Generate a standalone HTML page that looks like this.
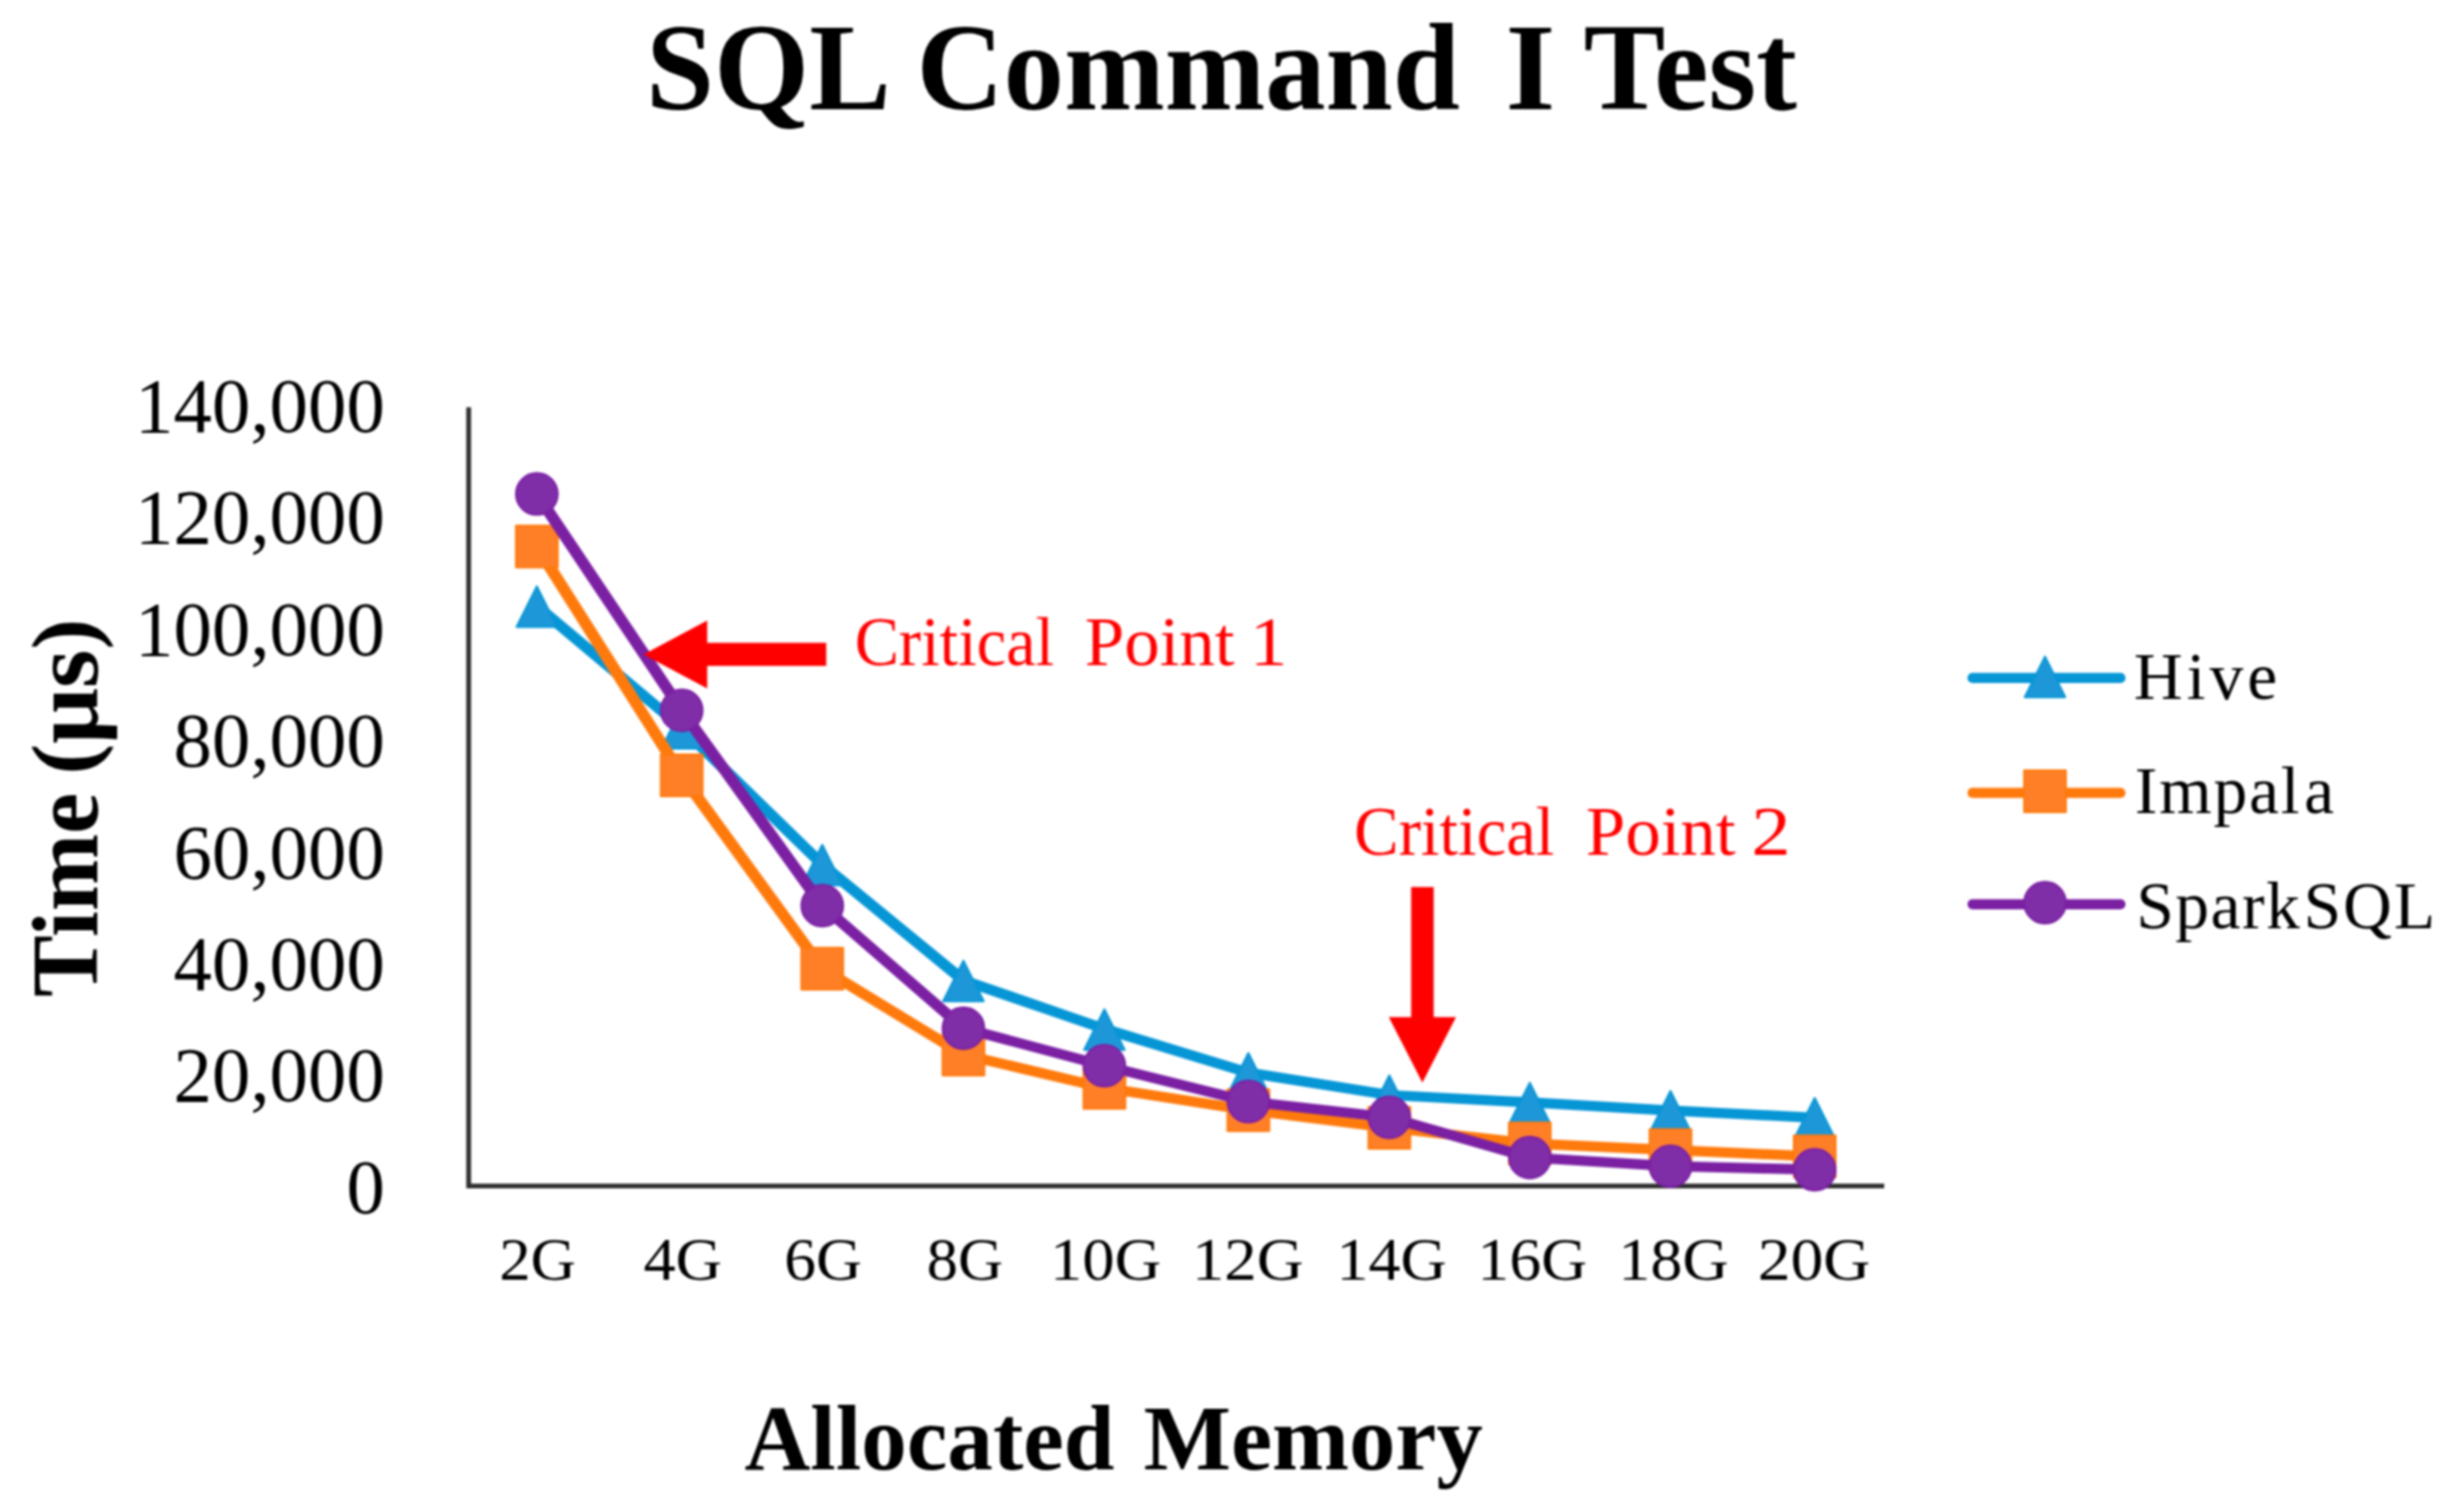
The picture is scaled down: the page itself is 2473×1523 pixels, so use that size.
<!DOCTYPE html>
<html lang="en"><head><meta charset="utf-8"><title>SQL Command I Test</title>
<style>
html,body{margin:0;padding:0;background:#fff;}
body{width:2473px;height:1523px;overflow:hidden;}
svg{display:block;filter:blur(0.9px);}
text{font-family:"Liberation Serif","Times New Roman",serif;}
.b{font-weight:bold;}
</style></head><body>
<svg width="2473" height="1523" viewBox="0 0 2473 1523">
<rect width="2473" height="1523" fill="#fff"/>
<text class="b" font-size="124" fill="#000" y="110.3"><tspan x="650.76" textLength="239.81" lengthAdjust="spacingAndGlyphs">SQL</tspan> <tspan x="923.31" textLength="547.22" lengthAdjust="spacingAndGlyphs">Command</tspan> <tspan x="1516.40" textLength="50.28" lengthAdjust="spacingAndGlyphs">I</tspan> <tspan x="1595.17" textLength="214.86" lengthAdjust="spacingAndGlyphs">Test</tspan></text>
<text font-size="62" fill="#000" y="1289.3"><tspan x="503.05" textLength="77.17" lengthAdjust="spacingAndGlyphs">2G</tspan> <tspan x="648.16" textLength="79.22" lengthAdjust="spacingAndGlyphs">4G</tspan> <tspan x="789.95" textLength="78.20" lengthAdjust="spacingAndGlyphs">6G</tspan> <tspan x="933.60" textLength="76.93" lengthAdjust="spacingAndGlyphs">8G</tspan> <tspan x="1057.80" textLength="112.04" lengthAdjust="spacingAndGlyphs">10G</tspan> <tspan x="1200.66" textLength="112.45" lengthAdjust="spacingAndGlyphs">12G</tspan> <tspan x="1346.34" textLength="111.10" lengthAdjust="spacingAndGlyphs">14G</tspan> <tspan x="1488.38" textLength="110.33" lengthAdjust="spacingAndGlyphs">16G</tspan> <tspan x="1630.35" textLength="110.93" lengthAdjust="spacingAndGlyphs">18G</tspan> <tspan x="1770.71" textLength="113.45" lengthAdjust="spacingAndGlyphs">20G</tspan></text>
<text font-size="68" fill="#000" y="703.7"><tspan x="2149.58" textLength="144.25" lengthAdjust="spacing">Hive</tspan></text>
<text font-size="70" fill="#FF0000" y="670"><tspan x="860.90" textLength="200.99" lengthAdjust="spacingAndGlyphs">Critical</tspan> <tspan x="1092.80" textLength="150.83" lengthAdjust="spacingAndGlyphs">Point</tspan> <tspan x="1259.02" textLength="37.92" lengthAdjust="spacingAndGlyphs">1</tspan></text>
<text font-size="70" fill="#FF0000" y="860.6"><tspan x="1364.11" textLength="201.70" lengthAdjust="spacingAndGlyphs">Critical</tspan> <tspan x="1597.52" textLength="150.72" lengthAdjust="spacingAndGlyphs">Point</tspan> <tspan x="1764.27" textLength="39.50" lengthAdjust="spacingAndGlyphs">2</tspan></text>
<text class="b" font-size="94" fill="#000" y="1479.6"><tspan x="749.99" textLength="372.72" lengthAdjust="spacingAndGlyphs">Allocated</tspan> <tspan x="1151.98" textLength="341.64" lengthAdjust="spacingAndGlyphs">Memory</tspan></text>
<text font-size="68" fill="#000" y="819.4"><tspan x="2150.52" textLength="165.91" lengthAdjust="spacing">Impal</tspan><tspan x="2321.06" textLength="22.22" lengthAdjust="spacing">a</tspan></text>
<text font-size="68" fill="#000" y="934.7"><tspan x="2152.03" textLength="164.62" lengthAdjust="spacing">Spark</tspan><tspan x="2320.50" textLength="132.47" lengthAdjust="spacing">SQL</tspan></text>
<g font-size="77.4" fill="#000" text-anchor="end">
<text x="387.6" y="1221.7">0</text>
<text x="387.6" y="1109.3">20,000</text>
<text x="387.6" y="996.9">40,000</text>
<text x="387.6" y="884.5">60,000</text>
<text x="387.6" y="772.1">80,000</text>
<text x="387.6" y="659.7">100,000</text>
<text x="387.6" y="547.3">120,000</text>
<text x="387.6" y="434.9">140,000</text>
</g>
<text class="b" font-size="96" fill="#000" transform="translate(97.8 1004.3) rotate(-90)" y="0"><tspan x="0" textLength="205.7" lengthAdjust="spacingAndGlyphs">Time</tspan> <tspan x="224" textLength="157" lengthAdjust="spacingAndGlyphs"><tspan font-size="90" dy="-3">(</tspan><tspan dy="3">μs</tspan><tspan font-size="90" dy="-3">)</tspan></tspan></text>
<g stroke="#2e2e2e" stroke-width="4.8" fill="none">
<polyline points="472.1,410.3 472.1,1194.6 1898,1194.6" stroke-linejoin="miter"/>
</g>
<g>
<g fill="#1E97D8" stroke="#0696D6" stroke-width="2" stroke-linejoin="round">
<polyline transform="scale(1.2 1)" points="450.67,610.4 572.25,733.0 690.25,870.8 808.75,987.5 927.08,1036.4 1047.92,1080.5 1166.25,1103.0 1284.17,1110.4 1402.25,1118.7 1523.33,1125.8" fill="none" stroke-width="10.2" stroke-linecap="round"/>
<polygon points="540.8,590.6 561.2,631.4 520.4,631.4"/>
<polygon points="686.7,713.2 707.1,754.0 666.3,754.0"/>
<polygon points="828.3,851.0 848.7,891.8 807.9,891.8"/>
<polygon points="970.5,967.7 990.9,1008.5 950.1,1008.5"/>
<polygon points="1112.5,1016.6 1132.9,1057.4 1092.1,1057.4"/>
<polygon points="1257.5,1060.7 1277.9,1101.5 1237.1,1101.5"/>
<polygon points="1399.5,1083.2 1419.9,1124.0 1379.1,1124.0"/>
<polygon points="1541.0,1090.6 1561.4,1131.4 1520.6,1131.4"/>
<polygon points="1682.7,1098.9 1703.1,1139.7 1662.3,1139.7"/>
<polygon points="1828.0,1106.0 1848.4,1146.8 1807.6,1146.8"/>
</g>
<g fill="#FF7F27" stroke="#FF7A0C" stroke-width="2" stroke-linejoin="round">
<polyline transform="scale(1.2 1)" points="450.67,550.5 572.25,781.0 690.25,975.7 808.75,1062.3 927.08,1095.8 1047.92,1118.2 1166.25,1136.0 1284.17,1151.8 1402.25,1158.4 1523.33,1164.8" fill="none" stroke-width="10.2" stroke-linecap="round"/>
<rect x="519.8" y="529.5" width="42.0" height="42.0"/>
<rect x="665.7" y="760.0" width="42.0" height="42.0"/>
<rect x="807.3" y="954.7" width="42.0" height="42.0"/>
<rect x="949.5" y="1041.3" width="42.0" height="42.0"/>
<rect x="1091.5" y="1074.8" width="42.0" height="42.0"/>
<rect x="1236.5" y="1097.2" width="42.0" height="42.0"/>
<rect x="1378.5" y="1115.0" width="42.0" height="42.0"/>
<rect x="1520.0" y="1130.8" width="42.0" height="42.0"/>
<rect x="1661.7" y="1137.4" width="42.0" height="42.0"/>
<rect x="1807.0" y="1143.8" width="42.0" height="42.0"/>
</g>
<g fill="#802DA8" stroke="#7B20A3" stroke-width="2" stroke-linejoin="round">
<polyline transform="scale(1.2 1)" points="450.67,497.6 572.25,715.5 690.25,912.3 808.75,1035.7 927.08,1073.5 1047.92,1109.6 1166.25,1125.5 1284.17,1166.0 1402.25,1174.7 1523.33,1178.2" fill="none" stroke-width="10.2" stroke-linecap="round"/>
<circle cx="540.8" cy="497.6" r="21.0"/>
<circle cx="686.7" cy="715.5" r="21.0"/>
<circle cx="828.3" cy="912.3" r="21.0"/>
<circle cx="970.5" cy="1035.7" r="21.0"/>
<circle cx="1112.5" cy="1073.5" r="21.0"/>
<circle cx="1257.5" cy="1109.6" r="21.0"/>
<circle cx="1399.5" cy="1125.5" r="21.0"/>
<circle cx="1541.0" cy="1166.0" r="21.0"/>
<circle cx="1682.7" cy="1174.7" r="21.0"/>
<circle cx="1828.0" cy="1178.2" r="21.0"/>
</g>
<g fill="#1E97D8" stroke="#0696D6" stroke-width="2" stroke-linejoin="round">
<line x1="1987" y1="682.9" x2="2136" y2="682.9" stroke-width="10.2" stroke-linecap="round"/>
<polygon points="2060.0,661.4 2080.4,702.2 2039.6,702.2"/>
</g>
<g fill="#FF7F27" stroke="#FF7A0C" stroke-width="2" stroke-linejoin="round">
<line x1="1987" y1="798.7" x2="2136" y2="798.7" stroke-width="10.2" stroke-linecap="round"/>
<rect x="2039.0" y="776.0" width="42.0" height="42.0"/>
</g>
<g fill="#802DA8" stroke="#7B20A3" stroke-width="2" stroke-linejoin="round">
<line x1="1987" y1="910.8" x2="2136" y2="910.8" stroke-width="10.2" stroke-linecap="round"/>
<circle cx="2060.0" cy="909.2" r="21.0"/>
</g>
<g fill="#FF0000">
<polygon points="648.2,659.2 712.4,625 712.4,647.5 832.3,647.5 832.3,670.8 712.4,670.8 712.4,693.4"/>
<polygon points="1432.8,1090.4 1399,1024.6 1421.5,1024.6 1421.5,893.6 1444.2,893.6 1444.2,1024.6 1466.7,1024.6"/>
</g>
</g>
</svg>
</body></html>
